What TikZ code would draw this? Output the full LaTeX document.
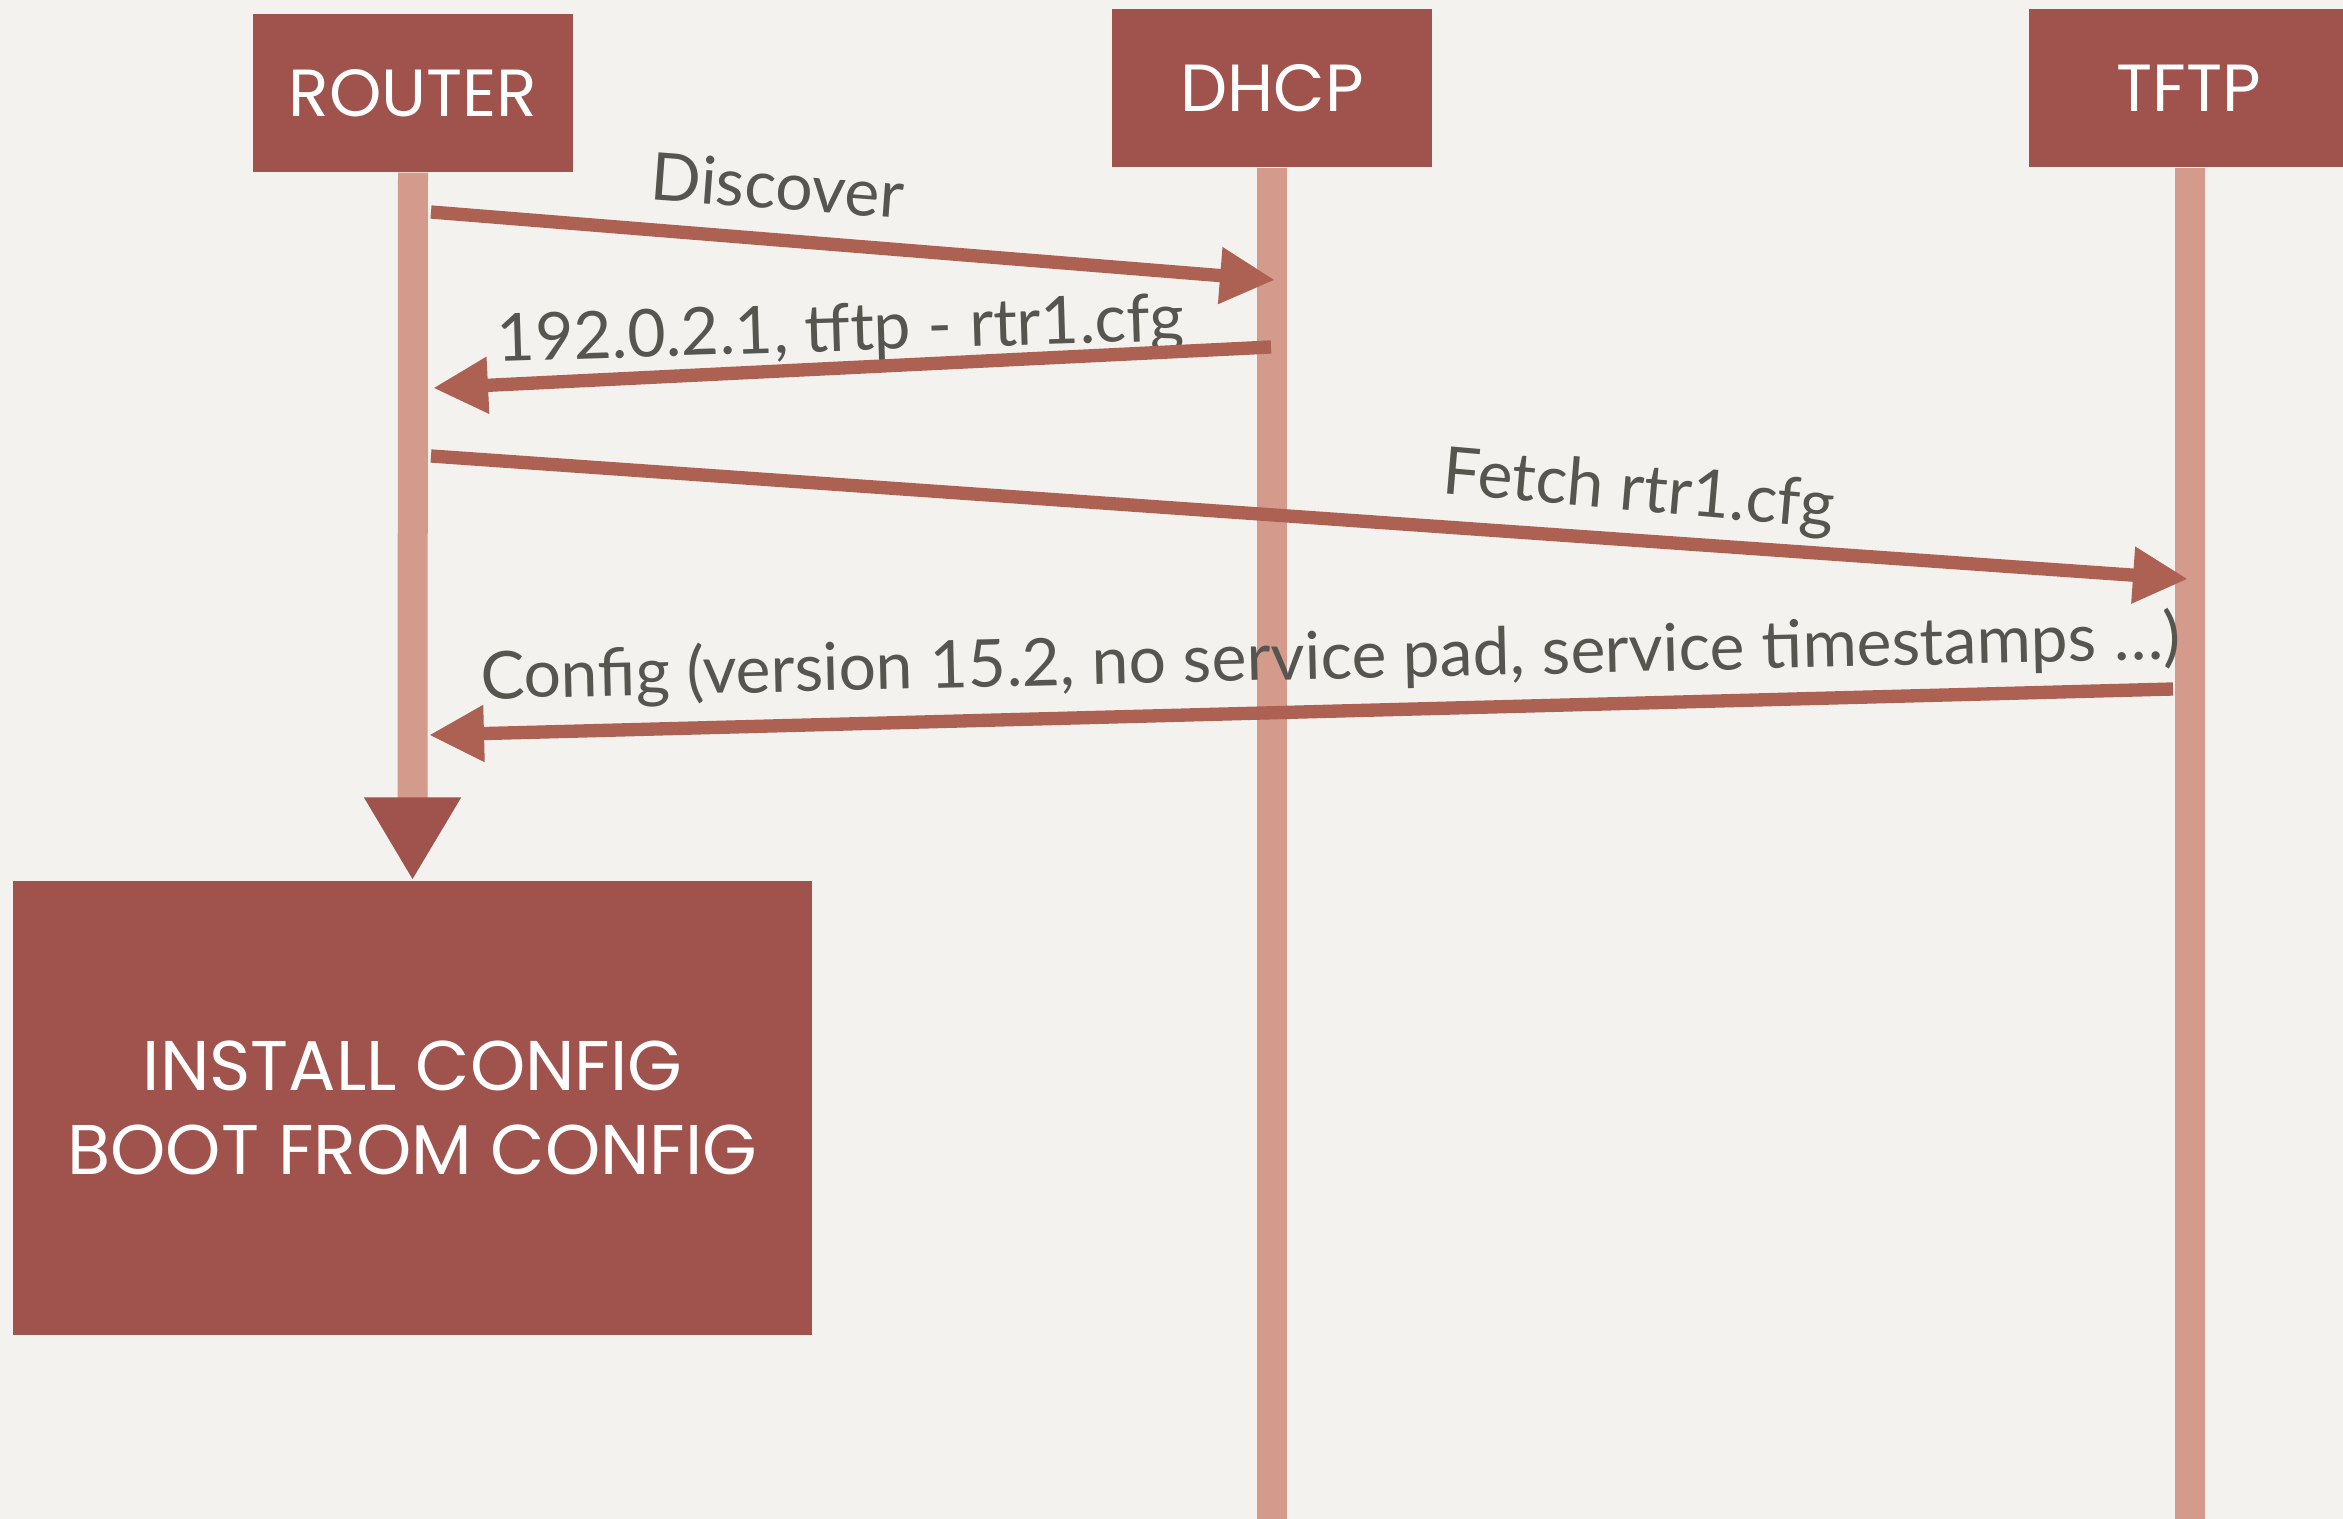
\documentclass[tikz,border=0pt]{standalone}
\usepackage{fontspec}
\setmainfont{Lato}
\newfontfamily\titlefont{Poppins}
\usetikzlibrary{arrows.meta}
\definecolor{bgpaper}{HTML}{F3F2EE}
\definecolor{boxred}{HTML}{A0534C}
\definecolor{lifepink}{HTML}{D49A8C}
\definecolor{arrred}{HTML}{AD6153}
\definecolor{txtgray}{HTML}{57554F}
\tikzset{
  actor/.style={fill=boxred, text=white, inner sep=0pt, minimum width=96pt, minimum height=47.4pt, font=\titlefont\fontsize{20}{24}\selectfont},
  bigbox/.style={fill=boxred, text=white, inner sep=0pt, minimum width=239.7pt, minimum height=136.2pt, align=center, font=\titlefont\fontsize{21.1}{25.2}\selectfont},
  lifeline/.style={draw=lifepink, line width=9pt},
  msg/.style={draw=arrred, line width=4pt, -{Triangle[length=16.5pt, width=16pt]}},
  lbl/.style={text=txtgray, anchor=base, inner sep=0pt, font=\fontsize{19.8}{23}\selectfont}
}
\begin{document}
\begin{tikzpicture}[x=0.3pt, y=-0.3pt]
\fill[bgpaper] (0,0) rectangle (2343,1519);
\useasboundingbox (0,0) rectangle (2343,1519);
% boxes
\node[actor] (router) at (413,93) {ROUTER};
\node[actor] (dhcp) at (1272,88) {DHCP};
\node[actor] (tftp) at (2189,88) {TFTP};
\node[bigbox] (install) at (412.5,1108) {INSTALL CONFIG\\BOOT FROM CONFIG};
% lifeline ends
\coordinate (dhcpend) at (1272,1525);
\coordinate (tftpend) at (2190,1525);
\draw[lifeline] (dhcp.south) -- (dhcpend);
\draw[lifeline] (tftp.south -| tftpend) -- (tftpend);
\draw[lifeline, -{Triangle[length=24.9pt, width=27.3pt, color=boxred]}] (router.south) -- (install.north);
% message endpoints
\coordinate (d1s) at (431,212);
\coordinate (d1e) at (1275,280);
\coordinate (d2s) at (1271,347);
\coordinate (d2e) at (433,388);
\coordinate (f1s) at (431,456);
\coordinate (f1e) at (2188,579);
\coordinate (c1s) at (2173,689);
\coordinate (c1e) at (429,735);
% labels
\node[lbl, rotate=-4.3] (ldisc) at (776,209) {Discover};
\node[lbl, rotate=1.8] (loffer) at (841,351) {192.0.2.1, tftp - rtr1.cfg};
\node[lbl, rotate=-5] (lfetch) at (1637,511) {Fetch rtr1.cfg};
\node[lbl, rotate=1.35] (lconf) at (1331,679) {Config (version 15.2, no service pad, service timestamps …)};
% messages
\draw[msg] (d1s) -- (d1e);
\draw[msg] (d2s) -- (d2e);
\draw[msg] (f1s) -- (f1e);
\draw[msg] (c1s) -- (c1e);
\end{tikzpicture}
\end{document}
